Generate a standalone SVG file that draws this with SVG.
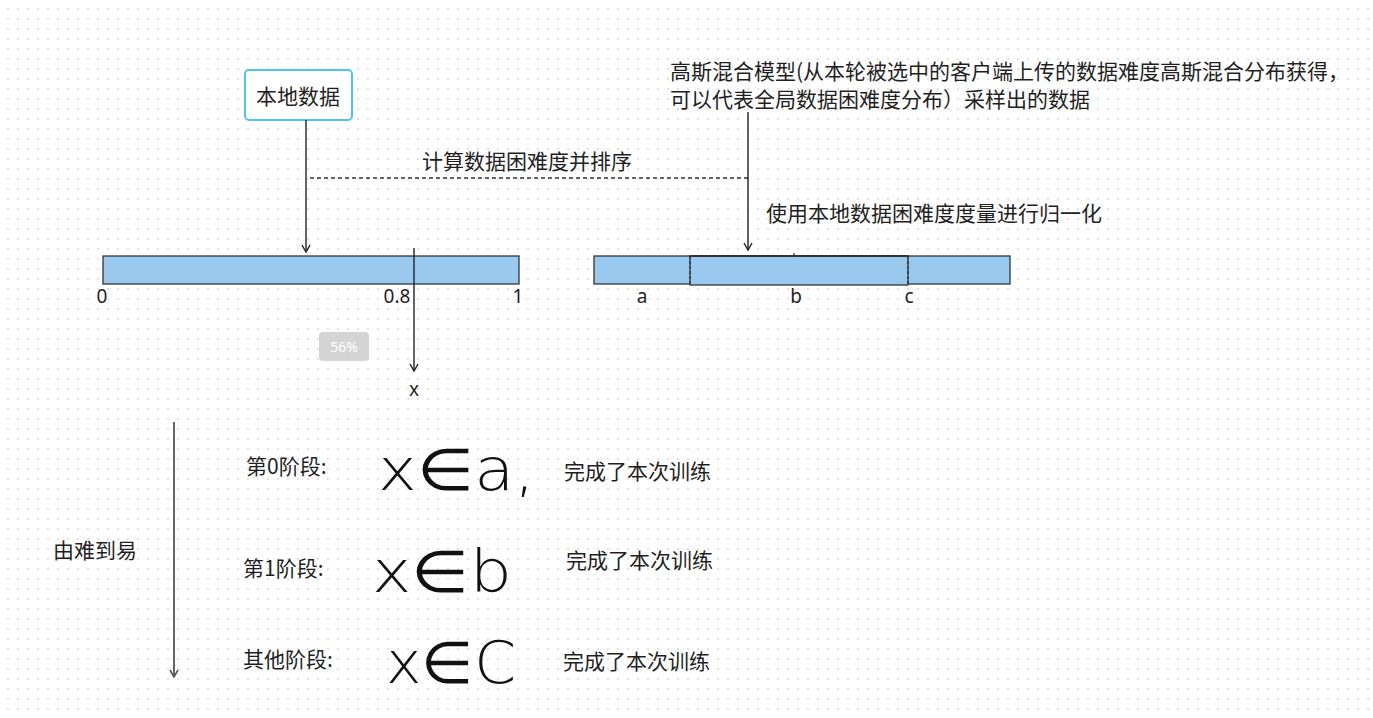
<svg xmlns="http://www.w3.org/2000/svg" width="1373" height="718" viewBox="0 0 1373 718">
<defs>
<pattern id="dots" x="3" y="4" width="10" height="10" patternUnits="userSpaceOnUse">
<circle cx="5" cy="5" r="0.9" fill="#d4d4d4"/>
</pattern>
<marker id="arr" markerWidth="10" markerHeight="10" refX="8" refY="5" orient="auto" markerUnits="userSpaceOnUse">
<path d="M1,1 L8,5 L1,9" fill="none" stroke="#222" stroke-width="1.4"/>
</marker>
<marker id="arrg" markerWidth="10" markerHeight="10" refX="8" refY="5" orient="auto" markerUnits="userSpaceOnUse">
<path d="M1,1 L8,5 L1,9" fill="none" stroke="#555" stroke-width="1.6"/>
</marker>
</defs>
<style>
.t{font-family:"Noto Sans CJK SC","Noto Sans",sans-serif;font-size:21px;fill:#1f1f1f}
.n{font-family:"Noto Sans","Noto Sans CJK SC",sans-serif;font-size:19px;fill:#1f1f1f}
.h{font-family:"DejaVu Sans",sans-serif;font-weight:200;font-size:58px;fill:#111}
.bar{fill:#99c9ef;stroke:#333;stroke-width:1.3}
.ln{stroke:#222;stroke-width:1.4;fill:none}
</style>
<rect width="1373" height="718" fill="#ffffff"/>
<rect width="1373" height="718" fill="url(#dots)"/>

<g id="node-local">
<rect x="245" y="70" width="107" height="50" rx="4" fill="#fff" stroke="#4cc6f0" stroke-width="2"/>
<text class="t" x="298" y="104" text-anchor="middle">本地数据</text>
</g>

<g id="label-sort">
<text class="t" x="527" y="169" text-anchor="middle">计算数据困难度并排序</text>
</g>

<g id="bar-left">
<rect class="bar" x="103" y="256" width="416" height="28"/>
<text class="n" x="102" y="303" text-anchor="middle">0</text>
<text class="n" x="397" y="303" text-anchor="middle">0.8</text>
<text class="n" x="518" y="303" text-anchor="middle">1</text>
<text class="n" x="414" y="396" text-anchor="middle">x</text>
</g>

<g id="badge">
<rect x="319" y="332" width="50" height="29" rx="4" fill="#cfcfcf" opacity="0.9"/>
<text x="344" y="352" text-anchor="middle" font-family="Noto Sans, sans-serif" font-size="14" fill="#fff">56%</text>
</g>

<g id="gmm-text">
<text class="t" x="670" y="79">高斯混合模型(从本轮被选中的客户端上传的数据难度高斯混合分布获得，</text>
<text class="t" x="670" y="107">可以代表全局数据困难度分布）采样出的数据</text>
</g>

<g id="label-norm">
<text class="t" x="766" y="221">使用本地数据困难度度量进行归一化</text>
</g>

<g id="bar-right">
<rect class="bar" x="594" y="256" width="416" height="28"/>
<rect x="690" y="256" width="218" height="29" fill="#99c9ef" stroke="#333" stroke-width="1.3"/>
<line x1="690" y1="256" x2="908" y2="256" stroke="#333" stroke-width="2.2"/>
<line x1="690" y1="256" x2="690" y2="285" stroke="#333" stroke-width="1.3" stroke-dasharray="3,2"/>
<line x1="908" y1="256" x2="908" y2="285" stroke="#333" stroke-width="1.3" stroke-dasharray="3,2"/>
<line x1="794" y1="253" x2="794" y2="257" stroke="#333" stroke-width="1.3"/>
<text class="n" x="642" y="303" text-anchor="middle">a</text>
<text class="n" x="796" y="303" text-anchor="middle">b</text>
<text class="n" x="909" y="303" text-anchor="middle">c</text>
</g>

<g id="label-order">
<text class="t" x="53" y="558">由难到易</text>
</g>

<g id="stage0">
<text class="t" x="246" y="474">第0阶段:</text>
<text class="h" x="378" y="490" textLength="157" lengthAdjust="spacingAndGlyphs">x∈a,</text>
<text class="t" x="564" y="479">完成了本次训练</text>
</g>
<g id="stage1">
<text class="t" x="243" y="576">第1阶段:</text>
<text class="h" x="372" y="592" textLength="140" lengthAdjust="spacingAndGlyphs">x∈b</text>
<text class="t" x="566" y="568">完成了本次训练</text>
</g>
<g id="stage2">
<text class="t" x="243" y="667">其他阶段:</text>
<text class="h" x="386" y="683" textLength="130" lengthAdjust="spacingAndGlyphs">x∈C</text>
<text class="t" x="563" y="669">完成了本次训练</text>
</g>

<g id="connectors">
<line class="ln" x1="306" y1="120" x2="306" y2="252" marker-end="url(#arr)"/>
<line x1="310" y1="178" x2="748" y2="178" stroke="#333" stroke-width="1.3" stroke-dasharray="4,3"/>
<line class="ln" x1="748" y1="112" x2="748" y2="250" marker-end="url(#arr)"/>
<line class="ln" x1="414" y1="248" x2="414" y2="371" marker-end="url(#arr)"/>
<line x1="174" y1="422" x2="174" y2="677" stroke="#555" stroke-width="1.8" marker-end="url(#arrg)"/>
</g>
</svg>
